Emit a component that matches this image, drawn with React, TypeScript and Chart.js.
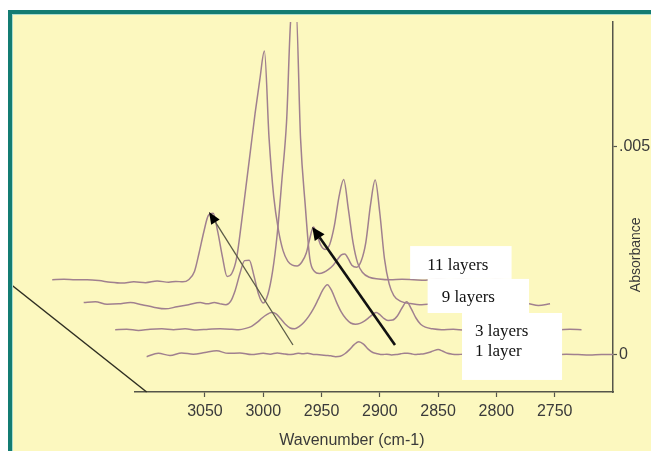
import React, { useEffect, useRef } from 'react';
import { Chart, registerables } from 'chart.js';

Chart.register(...registerables);

// Shared wavenumber grid (cm-1) for all four spectra
const WAVENUMBERS = [
  3100, 3090, 3080, 3070, 3060, 3050, 3040, 3030, 3020, 3010,
  3000,
  2994, 2988, 2983, 2978,
  2974, 2970, 2966, 2962, 2958, 2954, 2950, 2946, 2942, 2938, 2934, 2930, 2926, 2922,
  2918, 2914, 2910, 2906, 2902, 2898, 2894, 2890, 2886, 2882,
  2879, 2876, 2873,
  2870, 2866, 2862, 2858, 2854, 2850, 2846, 2842, 2838, 2834,
  2828, 2820,
  2810, 2800, 2790, 2780, 2770, 2760, 2750, 2740, 2730, 2720, 2710, 2700,
];

// Absorbance values in units of 1e-4
const ABS_UNIT = 1e-4;
const ABS_1_LAYER = [
  -0.5, 0.3, -0.2, 0.4, 0.1, 0.5, 0.9, 0.3, 0.4, 0.0,
  0.3,
  0.1, 0.4, 0.2, 0.0,
  0.1, 0.3, 0.2, 0.3, 0.1, 0.0, -0.1, -0.2, -0.3, -0.5, -0.4, 0.2, 1.2, 2.4,
  3.1, 2.5, 1.3, 0.5, 0.2, 0.0, 0.1, -0.1, 0.0, 0.2,
  0.3, 0.3, 0.2,
  0.0, 0.1, 0.2, 0.5, 0.9, 1.2, 0.8, 0.3, 0.1, 0.0,
  0.1, -0.1,
  0.1, 0.0, 0.2, 0.0, -0.1, 0.1, 0.0, 0.1, 0.0, -0.1, 0.0, 0.0,
];
const ABS_3_LAYERS = [
  0.0, 0.1, -0.2, 0.1, 0.2, 0.0, 0.2, -0.1, 0.1, 0.2,
  0.1,
  0.0, 0.3, 0.8, 1.8,
  2.8, 3.6, 4.1, 3.8, 2.6, 1.3, 0.4, 0.2, 0.8, 1.8, 3.2, 5.0, 7.2, 9.5,
  10.8, 9.2, 6.5, 4.2, 2.6, 1.6, 1.3, 1.5, 2.1, 3.0,
  3.7, 4.1, 3.6,
  2.8, 2.2, 2.3, 3.3, 5.2, 6.7, 5.0, 2.8, 1.3, 0.6,
  0.2, 0.0,
  0.1, -0.1, 0.0, 0.2, 0.0, 0.1, -0.1, 0.0, 0.1, 0.0, 0.1, 0.0,
];
const ABS_9_LAYERS = [
  0.5, 0.7, 0.1, 0.2, 0.5, 0.0, -0.6, -1.0, -0.5, 0.0,
  0.5,
  0.2, 0.5, 0.2, 0.0,
  0.8, 3.5, 7.5, 10.6, 10.7, 7.0, 2.5, 0.4, 2.5, 8.0, 17, 30, 44, 70,
  72, 40, 24, 11, 8, 7.5, 7.8, 8.5, 9.5, 11,
  12, 12.2, 11,
  9.5, 9, 10.5, 15, 24, 30, 22, 11, 5, 2.2,
  0.8, 0.3,
  0.0, 0.2, -0.1, 0.1, 0.0, 0.2, 0.1, -0.1, 0.0, 0.3, -0.2, 0.2,
];
const ABS_11_LAYERS = [
  0.0, 0.1, 0.0, 0.0, -0.2, -0.6, -0.8, -0.5, -0.7, -0.3,
  -0.6,
  -0.4, -0.5, 0.0, 2.0,
  6.5, 11.5, 15.5, 16.0, 11.5, 5.5, 0.8, 1.5, 5, 13, 22, 31, 40, 48,
  55, 34, 20, 12, 7, 4.5, 3.5, 3.3, 4.2, 6.5,
  10, 12.7, 11,
  8.5, 7.3, 8.5, 13, 20, 24.1, 17, 9, 4, 1.8,
  0.6, 0.2,
  0.0, 0.1, 0.0, -0.1, 0.2, 0.0, 0.1, 0.0, -0.1, 0.1, 0.0, 0.0,
];

const SERIES_LABELS = ['1 layer', '3 layers', '9 layers', '11 layers'];
const SERIES_VALUES = [ABS_1_LAYER, ABS_3_LAYERS, ABS_9_LAYERS, ABS_11_LAYERS];
// waterfall offsets of each spectrum (cm-1, absorbance)
const X_SHIFT = [0, 27, 54, 81];
const Y_SHIFT = [0, 0.0006, 0.0012, 0.0018];

const X_TICKS = [3050, 3000, 2950, 2900, 2850, 2800, 2750];
const Y_TICKS = [0, 0.005];
const Y_TICK_LABELS = ['0', '.005'];
const X_TITLE = 'Wavenumber (cm-1)';
const Y_TITLE = 'Absorbance';

const X_MIN = 2700;
const X_MAX = 3110;
const Y_MIN = -0.0009;
const Y_MAX = 0.008;

// annotations, in data coordinates
const ARROWS = [
  { from: [2974.5, 0.00023], to: [3046.5, 0.00343], width: 1.3, color: '#5c5c48', head: 12, headW: 5 },
  { from: [2887, 0.00023], to: [2958, 0.00307], width: 2.6, color: '#111111', head: 13, headW: 6 },
];
const LABEL_BOXES = [
  { x0: 2874, x1: 2787, y0: 0.00261, y1: 0.00182, lines: ['11 layers'], indent: 17 },
  { x0: 2859, x1: 2772, y0: 0.00182, y1: 0.001, lines: ['9 layers'], indent: 14 },
  { x0: 2829.5, x1: 2743.7, y0: 0.001, y1: -0.00061, lines: ['3 layers', '1 layer'], indent: 13 },
];
const X_TITLE_AT = 2924;
const Y_TITLE_AT = 0.0024;

const BG = '#fcf8bf';
const TEAL = '#137c72';
const LINE = '#a0808f';
const AXIS = '#55554a';
const TEXT = '#3a3a3a';

const decor = {
  id: 'decor',
  beforeDraw(chart: any) {
    const ctx = chart.ctx;
    const W = chart.width;
    const H = chart.height;
    ctx.save();
    ctx.fillStyle = '#ffffff';
    ctx.fillRect(0, 0, W, H);
    ctx.fillStyle = TEAL;
    ctx.fillRect(8, 10, W - 8, H - 10);
    ctx.fillStyle = '#a9dccf';
    ctx.fillRect(12, 14, W - 12, H - 14);
    ctx.fillStyle = BG;
    ctx.fillRect(13, 15, W - 13, H - 15);
    ctx.restore();
  },
  afterDatasetsDraw(chart: any) {
    const ctx = chart.ctx;
    const xs = chart.scales.x;
    const ys = chart.scales.y;
    const W = chart.width;
    const H = chart.height;
    ctx.save();
    ctx.beginPath();
    ctx.rect(13, 15, W - 13, H - 15);
    ctx.clip();

    // depth axis (diagonal) following the waterfall offsets
    const steps = 5;
    const ox = WAVENUMBERS[0];
    const oy = Y_MIN;
    ctx.strokeStyle = '#2e2e22';
    ctx.lineWidth = 1.5;
    ctx.beginPath();
    ctx.moveTo(xs.getPixelForValue(ox), ys.getPixelForValue(oy));
    ctx.lineTo(
      xs.getPixelForValue(ox + steps * X_SHIFT[1]),
      ys.getPixelForValue(oy + steps * Y_SHIFT[1])
    );
    ctx.stroke();

    // arrows
    for (const a of ARROWS) {
      const x0 = xs.getPixelForValue(a.from[0]);
      const y0 = ys.getPixelForValue(a.from[1]);
      const x1 = xs.getPixelForValue(a.to[0]);
      const y1 = ys.getPixelForValue(a.to[1]);
      const ang = Math.atan2(y1 - y0, x1 - x0);
      const bx = x1 - a.head * Math.cos(ang);
      const by = y1 - a.head * Math.sin(ang);
      ctx.strokeStyle = a.color;
      ctx.lineWidth = a.width;
      ctx.beginPath();
      ctx.moveTo(x0, y0);
      ctx.lineTo(bx, by);
      ctx.stroke();
      ctx.fillStyle = '#000000';
      ctx.beginPath();
      ctx.moveTo(x1, y1);
      ctx.lineTo(bx + a.headW * Math.sin(ang), by - a.headW * Math.cos(ang));
      ctx.lineTo(bx - a.headW * Math.sin(ang), by + a.headW * Math.cos(ang));
      ctx.closePath();
      ctx.fill();
    }

    // label boxes
    ctx.font = '17px "Liberation Serif", "Times New Roman", serif';
    ctx.textBaseline = 'middle';
    ctx.textAlign = 'left';
    for (const b of LABEL_BOXES) {
      const l = xs.getPixelForValue(b.x0);
      const r = xs.getPixelForValue(b.x1);
      const t = ys.getPixelForValue(b.y0);
      const btm = ys.getPixelForValue(b.y1);
      ctx.fillStyle = '#ffffff';
      ctx.fillRect(l, t, r - l, btm - t);
      ctx.fillStyle = '#111111';
      b.lines.forEach((s, i) => ctx.fillText(s, l + b.indent, t + 19 + i * 20));
    }

    // x axis title
    ctx.fillStyle = TEXT;
    ctx.font = '16px "Liberation Sans", Arial, sans-serif';
    ctx.textAlign = 'center';
    ctx.textBaseline = 'middle';
    ctx.fillText(X_TITLE, xs.getPixelForValue(X_TITLE_AT), xs.bottom - 10);

    // y axis title (reads bottom to top)
    ctx.font = '14px "Liberation Sans", Arial, sans-serif';
    ctx.translate(ys.right - 15, ys.getPixelForValue(Y_TITLE_AT));
    ctx.rotate(-Math.PI / 2);
    ctx.fillText(Y_TITLE, 0, 0);
    ctx.restore();
  },
};

export default function App() {
  const ref = useRef<HTMLCanvasElement | null>(null);

  useEffect(() => {
    if (!ref.current) return;
    Chart.defaults.font.family = '"Liberation Sans", Arial, sans-serif';
    const datasets = SERIES_VALUES.map((vals, k) => ({
      label: SERIES_LABELS[k],
      data: WAVENUMBERS.map((w, i) => ({ x: w + X_SHIFT[k], y: vals[i] * ABS_UNIT + Y_SHIFT[k] })),
      borderColor: LINE,
      borderWidth: 1.5,
      pointRadius: 0,
      fill: false,
      cubicInterpolationMode: 'monotone',
      clip: { left: false, top: 0, right: false, bottom: false },
    }));
    const chart = new Chart(ref.current, {
      type: 'line',
      data: { datasets } as any,
      options: {
        animation: false,
        responsive: false,
        maintainAspectRatio: false,
        layout: { padding: { left: 135, top: 22, right: 0, bottom: 0 } },
        plugins: { legend: { display: false }, tooltip: { enabled: false } },
        scales: {
          x: {
            type: 'linear',
            reverse: true,
            min: X_MIN,
            max: X_MAX,
            position: 'bottom',
            afterFit: (s: any) => { s.height = 59; },
            afterBuildTicks: (s: any) => { s.ticks = X_TICKS.map((v) => ({ value: v })); },
            ticks: {
              autoSkip: false,
              maxRotation: 0,
              padding: 5,
              color: TEXT,
              font: { size: 16 },
              callback: (v: any) => String(v),
            },
            grid: { drawOnChartArea: false, tickLength: 5, color: AXIS, tickWidth: 1.2 },
            border: { color: AXIS, width: 1.5 },
            title: { display: false, text: X_TITLE },
          },
          y: {
            type: 'linear',
            position: 'right',
            min: Y_MIN,
            max: Y_MAX,
            afterFit: (s: any) => { s.width = 38; },
            afterBuildTicks: (s: any) => { s.ticks = Y_TICKS.map((v) => ({ value: v })); },
            ticks: {
              padding: 2,
              color: TEXT,
              font: { size: 16 },
              callback: (v: any) => Y_TICK_LABELS[Y_TICKS.indexOf(v)] ?? String(v),
            },
            grid: { drawOnChartArea: false, tickLength: 4, color: AXIS, tickWidth: 1.2 },
            border: { color: AXIS, width: 1.5 },
            title: { display: false, text: Y_TITLE },
          },
        },
      } as any,
      plugins: [decor],
    });
    return () => chart.destroy();
  }, []);

  return (
    <div style={{ position: 'fixed', left: 0, top: 0, width: 651, height: 451 }}>
      <canvas ref={ref} width={651} height={451} style={{ width: 651, height: 451, display: 'block' }} />
    </div>
  );
}
